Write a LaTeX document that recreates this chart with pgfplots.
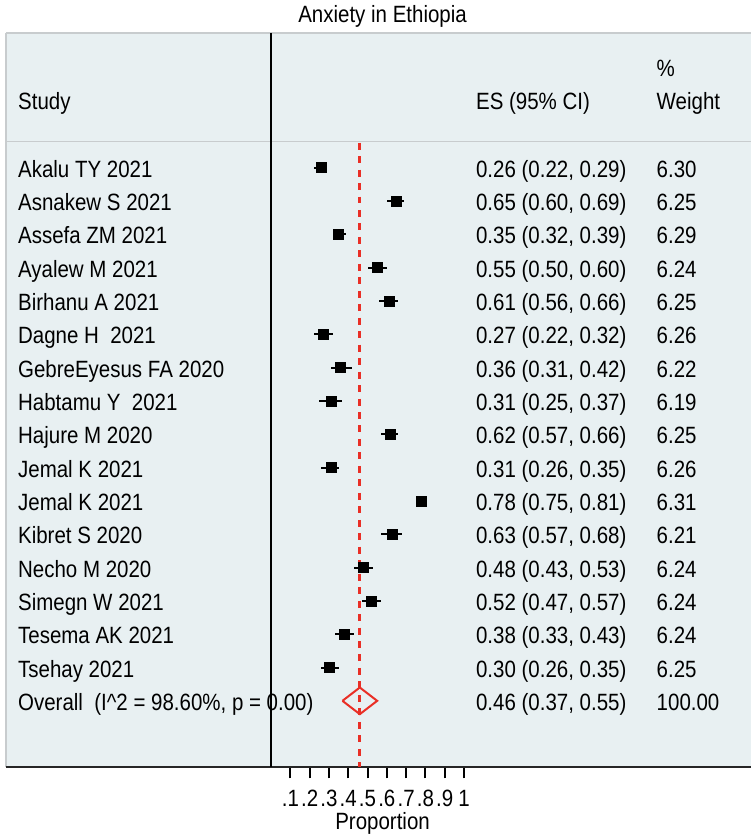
\documentclass[border=0pt]{standalone}
\usepackage{pgfplots}
\pgfplotsset{compat=1.18}
\usepackage{pgfplotstable}
\usepackage{fontspec}
\setmainfont{Liberation Sans}
\usepackage{graphicx}
\definecolor{panel}{RGB}{232,240,242}
\definecolor{ered}{RGB}{233,47,38}
\definecolor{bord}{RGB}{200,204,206}
\newcommand{\T}[1]{\scalebox{1}[1.15]{#1}}
\tikzset{txt/.style={anchor=base west, inner sep=0pt}}

% y = -row
\pgfplotstableread{
y es lo hi
-1 0.26 0.22 0.29
-2 0.65 0.60 0.69
-3 0.35 0.32 0.39
-4 0.55 0.50 0.60
-5 0.61 0.56 0.66
-6 0.27 0.22 0.32
-7 0.36 0.31 0.42
-8 0.31 0.25 0.37
-9 0.62 0.57 0.66
-10 0.31 0.26 0.35
-11 0.78 0.75 0.81
-12 0.63 0.57 0.68
-13 0.48 0.43 0.53
-14 0.52 0.47 0.57
-15 0.38 0.33 0.43
-16 0.30 0.26 0.35
}\studies

\begin{document}
\begin{tikzpicture}
\begin{axis}[
  scale only axis, width=747bp, height=736bp,
  xmin=-1.3746, xmax=2.49, ymin=-18.994, ymax=3.042,
  clip=false,
  font=\fontsize{20.6pt}{24pt}\selectfont,
  axis background/.style={fill=panel},
  axis line style={draw=none},
  ytick=\empty,
  xtick={0.1,0.2,0.3,0.4,0.5,0.6,0.7,0.8,0.9,1},
  xticklabels={\T{.1},\T{.2},\T{.3},\T{.4},\T{.5},\T{.6},\T{.7},\T{.8},\T{.9},\T{1}},
  xtick pos=bottom, tick align=outside, major tick length=11bp,
  every tick/.style={black, line width=2bp},
  xticklabel style={anchor=base, yshift=-28bp, inner sep=0pt},
]
% bounding area
\path (axis cs:-1.4056,4.03) rectangle (axis cs:2.49,-21.06);
% borders
\draw[bord, line width=1.2bp] (axis cs:-1.3746,3.042) -- (axis cs:2.49,3.042);
\draw[bord, line width=1.2bp] (axis cs:-1.3746,3.042) -- (axis cs:-1.3746,-18.994);
\draw[bord, line width=1.5bp] (axis cs:-1.3746,-0.22) -- (axis cs:2.49,-0.22);
\draw[black!85, line width=2bp] (axis cs:-1.3746,-18.994) -- (axis cs:2.49,-18.994);

% overall line
\addplot[ered, dash pattern=on 7bp off 6.5bp, line width=2.8bp] coordinates {(0.46,-0.25) (0.46,-18.994)};

% studies
\addplot[only marks, mark=square*, mark size=5bp, black,
  error bars/.cd, x dir=both, x explicit, error mark=none,
  error bar style={line width=2bp, black}]
  table[x=es, y=y, x error plus expr=\thisrow{hi}-\thisrow{es}, x error minus expr=\thisrow{es}-\thisrow{lo}] {\studies};

% overall diamond
\addplot[ered, line width=2bp, line join=miter] coordinates {(0.37,-17) (0.46,-16.6) (0.55,-17) (0.46,-17.4) (0.37,-17)};

% title and x label
\node[anchor=base] at (axis cs:0.578,3.35) {\T{Anxiety in Ethiopia}};
\node[anchor=base] at (axis cs:0.578,-20.87) {\T{Proportion}};

% headers
\node[txt] at (axis cs:-1.3125,0.737) {\T{Study}};
\node[txt] at (axis cs:1.062,0.737) {\T{ES (95\% CI)}};
\node[txt] at (axis cs:1.9985,1.733) {\T{\%}};
\node[txt] at (axis cs:1.9985,0.737) {\T{Weight}};

% study names
\node[txt] at (axis cs:-1.3125,-1.29) {\T{Akalu TY 2021}};
\node[txt] at (axis cs:-1.3125,-2.29) {\T{Asnakew S 2021}};
\node[txt] at (axis cs:-1.3125,-3.29) {\T{Assefa ZM 2021}};
\node[txt] at (axis cs:-1.3125,-4.29) {\T{Ayalew M 2021}};
\node[txt] at (axis cs:-1.3125,-5.29) {\T{Birhanu A 2021}};
\node[txt] at (axis cs:-1.3125,-6.29) {\T{Dagne H\ \ 2021}};
\node[txt] at (axis cs:-1.3125,-7.29) {\T{GebreEyesus FA 2020}};
\node[txt] at (axis cs:-1.3125,-8.29) {\T{Habtamu Y\ \ 2021}};
\node[txt] at (axis cs:-1.3125,-9.29) {\T{Hajure M 2020}};
\node[txt] at (axis cs:-1.3125,-10.29) {\T{Jemal K 2021}};
\node[txt] at (axis cs:-1.3125,-11.29) {\T{Jemal K 2021}};
\node[txt] at (axis cs:-1.3125,-12.29) {\T{Kibret S 2020}};
\node[txt] at (axis cs:-1.3125,-13.29) {\T{Necho M 2020}};
\node[txt] at (axis cs:-1.3125,-14.29) {\T{Simegn W 2021}};
\node[txt] at (axis cs:-1.3125,-15.29) {\T{Tesema AK 2021}};
\node[txt] at (axis cs:-1.3125,-16.29) {\T{Tsehay 2021}};
\node[txt] at (axis cs:-1.3125,-17.29) {\T{Overall\ \ (I\textasciicircum 2 = 98.60\%, p = 0.00)}};

% ES column
\node[txt] at (axis cs:1.062,-1.29) {\T{0.26 (0.22, 0.29)}};
\node[txt] at (axis cs:1.062,-2.29) {\T{0.65 (0.60, 0.69)}};
\node[txt] at (axis cs:1.062,-3.29) {\T{0.35 (0.32, 0.39)}};
\node[txt] at (axis cs:1.062,-4.29) {\T{0.55 (0.50, 0.60)}};
\node[txt] at (axis cs:1.062,-5.29) {\T{0.61 (0.56, 0.66)}};
\node[txt] at (axis cs:1.062,-6.29) {\T{0.27 (0.22, 0.32)}};
\node[txt] at (axis cs:1.062,-7.29) {\T{0.36 (0.31, 0.42)}};
\node[txt] at (axis cs:1.062,-8.29) {\T{0.31 (0.25, 0.37)}};
\node[txt] at (axis cs:1.062,-9.29) {\T{0.62 (0.57, 0.66)}};
\node[txt] at (axis cs:1.062,-10.29) {\T{0.31 (0.26, 0.35)}};
\node[txt] at (axis cs:1.062,-11.29) {\T{0.78 (0.75, 0.81)}};
\node[txt] at (axis cs:1.062,-12.29) {\T{0.63 (0.57, 0.68)}};
\node[txt] at (axis cs:1.062,-13.29) {\T{0.48 (0.43, 0.53)}};
\node[txt] at (axis cs:1.062,-14.29) {\T{0.52 (0.47, 0.57)}};
\node[txt] at (axis cs:1.062,-15.29) {\T{0.38 (0.33, 0.43)}};
\node[txt] at (axis cs:1.062,-16.29) {\T{0.30 (0.26, 0.35)}};
\node[txt] at (axis cs:1.062,-17.29) {\T{0.46 (0.37, 0.55)}};

% weights
\node[txt] at (axis cs:1.9985,-1.29) {\T{6.30}};
\node[txt] at (axis cs:1.9985,-2.29) {\T{6.25}};
\node[txt] at (axis cs:1.9985,-3.29) {\T{6.29}};
\node[txt] at (axis cs:1.9985,-4.29) {\T{6.24}};
\node[txt] at (axis cs:1.9985,-5.29) {\T{6.25}};
\node[txt] at (axis cs:1.9985,-6.29) {\T{6.26}};
\node[txt] at (axis cs:1.9985,-7.29) {\T{6.22}};
\node[txt] at (axis cs:1.9985,-8.29) {\T{6.19}};
\node[txt] at (axis cs:1.9985,-9.29) {\T{6.25}};
\node[txt] at (axis cs:1.9985,-10.29) {\T{6.26}};
\node[txt] at (axis cs:1.9985,-11.29) {\T{6.31}};
\node[txt] at (axis cs:1.9985,-12.29) {\T{6.21}};
\node[txt] at (axis cs:1.9985,-13.29) {\T{6.24}};
\node[txt] at (axis cs:1.9985,-14.29) {\T{6.24}};
\node[txt] at (axis cs:1.9985,-15.29) {\T{6.24}};
\node[txt] at (axis cs:1.9985,-16.29) {\T{6.25}};
\node[txt] at (axis cs:1.9985,-17.29) {\T{100.00}};

% null line
\draw[black, line width=2bp] (axis cs:0,3.042) -- (axis cs:0,-18.994);
\end{axis}
\end{tikzpicture}
\end{document}
